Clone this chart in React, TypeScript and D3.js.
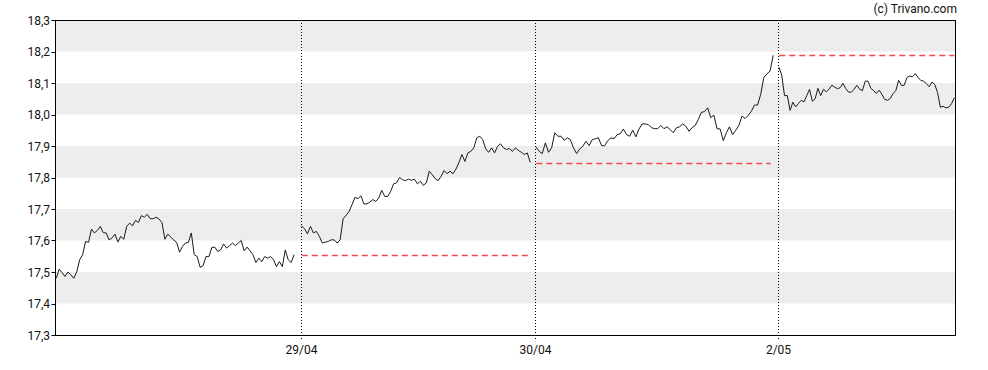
import * as d3 from "d3";

// trading sessions (width in 5-min bars) and the part of each one that has quotes
const sessionLabels = ["", "29/04", "30/04", "2/05"];
const sessionBars = [102, 97.5, 101, 73.5];
const sessionSpan = [99.2, 95.4, 98.9, 73.2];
const prevClose = [null, 17.555, 17.846, 18.188];

const day1 = [17.48, 17.509, 17.498, 17.486, 17.5, 17.491, 17.48, 17.501, 17.539, 17.555, 17.597, 17.594, 17.636, 17.624, 17.632, 17.645, 17.625, 17.624, 17.602, 17.608, 17.62, 17.595, 17.613, 17.604, 17.645, 17.655, 17.647, 17.664, 17.657, 17.679, 17.674, 17.683, 17.669, 17.669, 17.674, 17.668, 17.657, 17.604, 17.62, 17.611, 17.602, 17.594, 17.563, 17.581, 17.592, 17.594, 17.624, 17.555, 17.549, 17.515, 17.52, 17.549, 17.549, 17.578, 17.579, 17.565, 17.57, 17.589, 17.576, 17.583, 17.592, 17.584, 17.592, 17.6, 17.567, 17.579, 17.567, 17.555, 17.53, 17.544, 17.533, 17.549, 17.544, 17.549, 17.539, 17.517, 17.533, 17.517, 17.57, 17.539, 17.53, 17.555];
const day2 = [17.647, 17.637, 17.621, 17.645, 17.624, 17.629, 17.613, 17.592, 17.595, 17.597, 17.602, 17.602, 17.592, 17.602, 17.669, 17.68, 17.692, 17.714, 17.737, 17.733, 17.742, 17.716, 17.716, 17.722, 17.73, 17.724, 17.735, 17.759, 17.74, 17.74, 17.756, 17.78, 17.783, 17.8, 17.793, 17.79, 17.795, 17.791, 17.795, 17.78, 17.788, 17.775, 17.783, 17.82, 17.809, 17.796, 17.79, 17.804, 17.822, 17.812, 17.82, 17.812, 17.827, 17.848, 17.873, 17.851, 17.878, 17.883, 17.894, 17.926, 17.931, 17.92, 17.891, 17.88, 17.894, 17.878, 17.899, 17.907, 17.894, 17.889, 17.892, 17.883, 17.894, 17.886, 17.88, 17.873, 17.878, 17.848];
const day3 = [17.897, 17.883, 17.876, 17.91, 17.88, 17.894, 17.942, 17.931, 17.931, 17.918, 17.926, 17.92, 17.894, 17.876, 17.891, 17.899, 17.915, 17.901, 17.92, 17.923, 17.926, 17.901, 17.901, 17.917, 17.926, 17.923, 17.936, 17.939, 17.954, 17.936, 17.931, 17.95, 17.929, 17.954, 17.97, 17.97, 17.968, 17.958, 17.955, 17.955, 17.965, 17.955, 17.961, 17.952, 17.942, 17.958, 17.961, 17.97, 17.963, 17.947, 17.958, 17.965, 17.984, 18.007, 18.009, 18.021, 17.99, 17.998, 17.955, 17.954, 17.917, 17.942, 17.961, 17.936, 17.95, 17.965, 17.995, 17.987, 17.997, 18.01, 18.03, 18.03, 18.064, 18.117, 18.129, 18.138, 18.188];
const day4 = [18.15, 18.125, 18.06, 18.06, 18.013, 18.039, 18.024, 18.035, 18.045, 18.04, 18.06, 18.08, 18.042, 18.05, 18.083, 18.06, 18.08, 18.072, 18.08, 18.093, 18.087, 18.082, 18.085, 18.099, 18.082, 18.071, 18.071, 18.08, 18.093, 18.08, 18.076, 18.106, 18.106, 18.083, 18.076, 18.067, 18.077, 18.064, 18.048, 18.045, 18.051, 18.066, 18.076, 18.109, 18.092, 18.093, 18.117, 18.122, 18.12, 18.13, 18.117, 18.108, 18.106, 18.098, 18.088, 18.103, 18.095, 18.069, 18.023, 18.026, 18.021, 18.023, 18.034, 18.053];
const days = [day1, day2, day3, day4];

const yTicks = [17.3, 17.4, 17.5, 17.6, 17.7, 17.8, 17.9, 18.0, 18.1, 18.2, 18.3];

const W = 988;
const H = 370;
const left = 55.5, right = 955.5, top = 20, bottom = 335;
const font = "Roboto, 'Noto Sans', Arial, sans-serif";

export default function App() {
  const starts = sessionBars.map((_, i) => d3.sum(sessionBars.slice(0, i)));
  const x = d3.scaleLinear().domain([0, d3.sum(sessionBars)]).range([left, right - 0.5]);
  const y = d3.scaleLinear().domain([17.3, 18.3]).range([bottom, top]);

  const line = d3.line<[number, number]>().x(d => x(d[0])).y(d => y(d[1]));
  const paths = days.map((vals, i) => {
    const step = (sessionSpan[i] - 0.3) / (vals.length - 1);
    return line(vals.map((v, j) => [starts[i] + 0.3 + j * step, v] as [number, number]));
  });

  const fmt = (v: number) => v.toFixed(1).replace(".", ",");

  return (
    <svg width={W} height={H} style={{ position: "absolute", left: 0, top: 0, background: "#fff" }}>
      {/* alternating bands */}
      {yTicks.slice(0, -1).map((t, i) =>
        i % 2 === 1 ? (
          <rect key={t} x={left} y={y(yTicks[i + 1])} width={right - left} height={y(t) - y(yTicks[i + 1])} fill="#ededed" />
        ) : null
      )}

      {/* previous close */}
      {prevClose.map((pc, i) =>
        pc == null ? null : (
          <line key={i} x1={x(starts[i]) + 1} x2={x(starts[i] + sessionSpan[i] - (i === 3 ? 0 : 1))}
            y1={Math.round(y(pc)) + 0.5} y2={Math.round(y(pc)) + 0.5}
            stroke="#f24a4a" strokeWidth={1.3} strokeDasharray="6,4" />
        )
      )}

      {/* session separators */}
      {starts.slice(1).map((s, i) => (
        <line key={i} x1={Math.round(x(s)) + 0.5} x2={Math.round(x(s)) + 0.5} y1={top} y2={bottom + 5}
          stroke="#000" strokeWidth={1} strokeDasharray="1,2" />
      ))}

      {paths.map((d, i) => (
        <path key={i} d={d ?? ""} fill="none" stroke="#1a1a1a" strokeWidth={1} strokeLinejoin="round" />
      ))}

      {/* frame */}
      <rect x={left} y={top + 0.5} width={right - left} height={bottom - top} fill="none" stroke="#000" strokeWidth={1} />

      {yTicks.map(t => (
        <g key={t}>
          <line x1={left - 4} x2={left} y1={Math.round(y(t)) + 0.5} y2={Math.round(y(t)) + 0.5} stroke="#000" />
          <text x={50} y={y(t) + 4.5} textAnchor="end" fontSize={12} fontFamily={font} fill="#111">{fmt(t)}</text>
        </g>
      ))}

      {starts.slice(1).map((s, i) => (
        <text key={i} x={Math.round(x(s)) + 0.5} y={354} textAnchor="middle" fontSize={12} fontFamily={font} fill="#111">
          {sessionLabels[i + 1]}
        </text>
      ))}

      <text x={957} y={13} textAnchor="end" fontSize={12} fontFamily={font} fill="#111">(c) Trivano.com</text>
    </svg>
  );
}
